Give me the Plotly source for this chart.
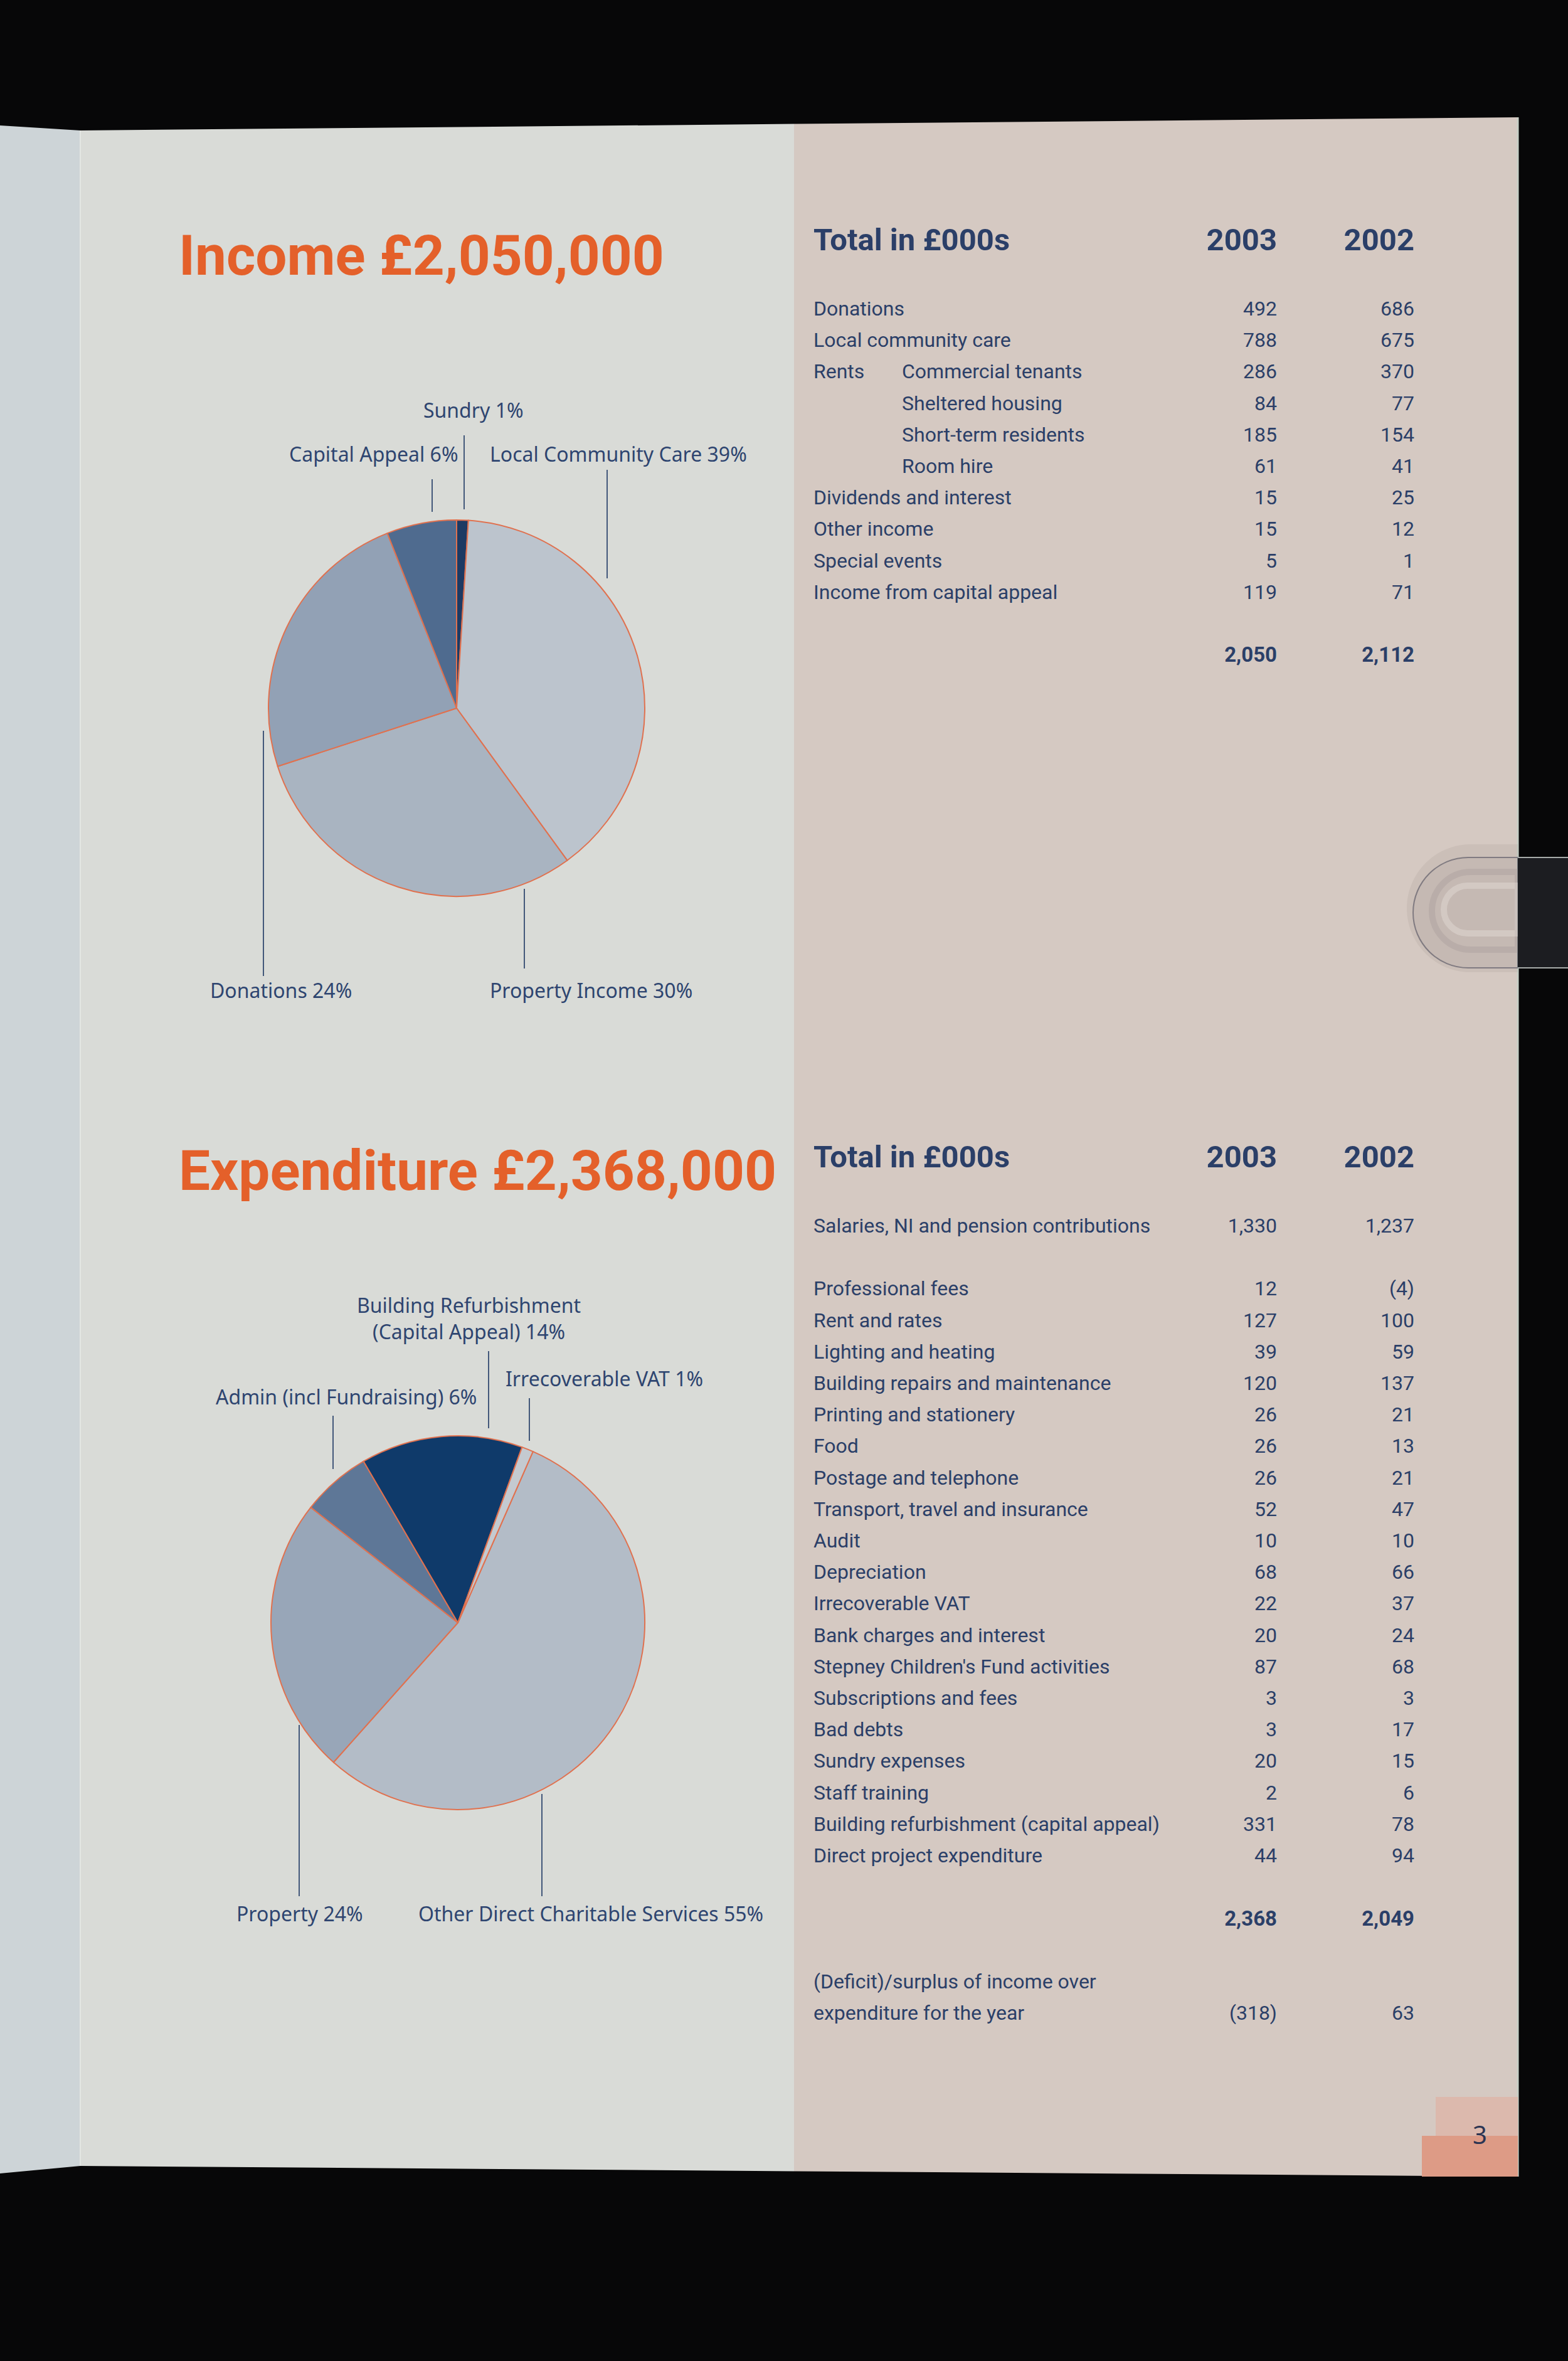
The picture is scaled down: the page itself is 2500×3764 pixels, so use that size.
import plotly.graph_objects as go

# ======================= DATA =======================
income_title = "Income £2,050,000"
expenditure_title = "Expenditure £2,368,000"

income_categories = ["Sundry", "Local Community Care", "Property Income", "Donations", "Capital Appeal"]
income_shares = [1, 39, 30, 24, 6]

expenditure_categories = ["Other Direct Charitable Services", "Property", "Admin (incl Fundraising)",
                          "Building Refurbishment (Capital Appeal)", "Irrecoverable VAT"]
expenditure_shares = [55, 24, 6, 14, 1]

table_header = ["Total in £000s", "2003", "2002"]

income_items = ["Donations", "Local community care", "Rents", "", "", "",
                "Dividends and interest", "Other income", "Special events", "Income from capital appeal"]
income_subitems = ["", "", "Commercial tenants", "Sheltered housing", "Short-term residents", "Room hire",
                   "", "", "", ""]
income_2003 = [492, 788, 286, 84, 185, 61, 15, 15, 5, 119]
income_2002 = [686, 675, 370, 77, 154, 41, 25, 12, 1, 71]

expenditure_items = ["Salaries, NI and pension contributions", "Professional fees", "Rent and rates",
                     "Lighting and heating", "Building repairs and maintenance", "Printing and stationery",
                     "Food", "Postage and telephone", "Transport, travel and insurance", "Audit",
                     "Depreciation", "Irrecoverable VAT", "Bank charges and interest",
                     "Stepney Children's Fund activities", "Subscriptions and fees", "Bad debts",
                     "Sundry expenses", "Staff training", "Building refurbishment (capital appeal)",
                     "Direct project expenditure"]
expenditure_2003 = [1330, 12, 127, 39, 120, 26, 26, 26, 52, 10, 68, 22, 20, 87, 3, 3, 20, 2, 331, 44]
expenditure_2002 = [1237, -4, 100, 59, 137, 21, 13, 21, 47, 10, 66, 37, 24, 68, 3, 17, 15, 6, 78, 94]

surplus_label = ["(Deficit)/surplus of income over", "expenditure for the year"]
page_number = "3"

# ======================= STYLE / LAYOUT =======================
W, H = 2500, 3764
BG = "#070708"
LEFT_STRIP = "#cdd4d7"
LEFT_PAGE = "#d9dbd7"
RIGHT_PAGE = "#d5c9c2"
ORANGE = "#e4602a"
NAVY = "#2b3f68"
LABEL_NAVY = "#2e4570"
LEADER = "#43587a"
PIE_EDGE = "#e0714f"

income_colors = ["#1d3a63", "#bcc4cd", "#a9b4c1", "#92a1b5", "#4f6b8f"]
expenditure_colors = ["#b3bcc7", "#98a6b8", "#5e7797", "#0f3a6a", "#c4cad0"]

INC_PIE = dict(cx=728, cy=1129, r=300, rotation=0)
EXP_PIE = dict(cx=730, cy=2587, r=298, rotation=23.7)

COL_LABEL, COL_SUB, COL_2003, COL_2002 = 1297, 1438, 2036, 2255
ROW_H = 50.2
INC_ROW0 = 495
EXP_ROW0 = 1957
HEADER_ROWS_UP = 2.15

BODY_FONT = "Roboto"
LABEL_FONT = "Noto Sans"


def fmt(v):
    s = f"{abs(v):,}"
    return f"({s})" if v < 0 else s


def pie_domain(p):
    cx, cy, r = p["cx"], p["cy"], p["r"]
    return dict(x=[(cx - r) / W, (cx + r) / W], y=[1 - (cy + r) / H, 1 - (cy - r) / H])


fig = go.Figure()

# ---------- pies ----------
fig.add_trace(go.Pie(values=income_shares, labels=income_categories, sort=False,
                     direction="clockwise", rotation=INC_PIE["rotation"],
                     marker=dict(colors=income_colors, line=dict(color=PIE_EDGE, width=2)),
                     textinfo="none", hoverinfo="label+percent", showlegend=False,
                     domain=pie_domain(INC_PIE)))
fig.add_trace(go.Pie(values=expenditure_shares, labels=expenditure_categories, sort=False,
                     direction="clockwise", rotation=EXP_PIE["rotation"],
                     marker=dict(colors=expenditure_colors, line=dict(color=PIE_EDGE, width=2)),
                     textinfo="none", hoverinfo="label+percent", showlegend=False,
                     domain=pie_domain(EXP_PIE)))


# ---------- tables as text traces ----------
def text_trace(xs, ys, texts, pos, size, bold=False, color=NAVY, family=BODY_FONT):
    fig.add_trace(go.Scatter(x=xs, y=ys, text=texts, mode="text", textposition=pos,
                             textfont=dict(family=family, size=size, color=color,
                                           weight="bold" if bold else "normal"),
                             hoverinfo="skip", showlegend=False, cliponaxis=False))


def add_table(row0, items, subitems, v2003, v2002, row_index):
    ys = [row0 + i * ROW_H for i in row_index]
    hy = row0 - HEADER_ROWS_UP * ROW_H
    text_trace([COL_LABEL], [hy], [table_header[0]], "middle right", 49, bold=True)
    text_trace([COL_2003, COL_2002], [hy, hy], table_header[1:], "middle left", 49, bold=True)
    text_trace([COL_LABEL] * len(items), ys, items, "middle right", 32)
    if subitems:
        text_trace([COL_SUB] * len(subitems), ys, subitems, "middle right", 32)
    text_trace([COL_2003] * len(v2003), ys, [fmt(v) for v in v2003], "middle left", 32)
    text_trace([COL_2002] * len(v2002), ys, [fmt(v) for v in v2002], "middle left", 32)
    ty = row0 + (row_index[-1] + 2) * ROW_H
    text_trace([COL_2003, COL_2002], [ty, ty], [fmt(sum(v2003)), fmt(sum(v2002))],
               "middle left", 33, bold=True)
    return ty


add_table(INC_ROW0, income_items, income_subitems, income_2003, income_2002,
          list(range(len(income_items))))
exp_rows = [0] + [i + 1 for i in range(1, len(expenditure_items))]
t_exp = add_table(EXP_ROW0, expenditure_items, None, expenditure_2003, expenditure_2002, exp_rows)

s1 = t_exp + 2 * ROW_H
s2 = s1 + ROW_H
text_trace([COL_LABEL, COL_LABEL], [s1, s2], surplus_label, "middle right", 32)
text_trace([COL_2003, COL_2002], [s2, s2],
           [fmt(sum(income_2003) - sum(expenditure_2003)), fmt(sum(income_2002) - sum(expenditure_2002))],
           "middle left", 32)

# ---------- page background shapes ----------
shapes = []


def poly(pts, color, line=None, width=0, layer="below"):
    path = "M " + " L ".join(f"{x},{y}" for x, y in pts) + " Z"
    shapes.append(dict(type="path", path=path, xref="x", yref="y", layer=layer,
                       fillcolor=color, line=dict(color=line or color, width=width)))


poly([(0, 200), (128, 208), (128, 3453), (0, 3465)], LEFT_STRIP)
poly([(128, 208), (1266, 197.6), (1266, 3461.4), (128, 3453)], LEFT_PAGE)
poly([(1266, 197.6), (2420, 187), (2420, 3470), (1266, 3461.4)], RIGHT_PAGE)
shapes.append(dict(type="line", x0=128, x1=128, y0=208, y1=3453, xref="x", yref="y", layer="below",
                   line=dict(color="#e3e6e3", width=2)))
shapes.append(dict(type="line", x0=2420, x1=2420, y0=187, y1=3470, xref="x", yref="y", layer="below",
                   line=dict(color="#c8cfc6", width=3)))
# page number tabs
poly([(2289, 3343), (2420, 3343), (2420, 3405), (2289, 3405)], "#dcb9ad")
poly([(2267, 3405), (2420, 3405), (2420, 3470), (2267, 3470)], "#dd9b86")

# clip tab
k = 0.5523


def clip_path(cx, cy, r, xr):
    return (f"M {xr},{cy - r} L {cx},{cy - r} "
            f"C {cx - k * r},{cy - r} {cx - r},{cy - k * r} {cx - r},{cy} "
            f"C {cx - r},{cy + k * r} {cx - k * r},{cy + r} {cx},{cy + r} "
            f"L {xr},{cy + r} Z")


shapes.append(dict(type="path", path=clip_path(2345, 1448, 102, 2420), xref="x", yref="y", layer="below",
                   fillcolor="rgba(120,105,100,0.10)", line=dict(width=0)))
shapes.append(dict(type="path", path=clip_path(2341, 1455, 88, 2420), xref="x", yref="y", layer="below",
                   fillcolor="rgba(160,150,148,0.14)", line=dict(color="rgba(70,70,85,0.55)", width=2)))
shapes.append(dict(type="path", path=clip_path(2345, 1452, 62, 2420), xref="x", yref="y", layer="below",
                   fillcolor="rgba(0,0,0,0)", line=dict(color="rgba(150,140,138,0.25)", width=10)))
shapes.append(dict(type="path", path=clip_path(2340, 1450, 38, 2420), xref="x", yref="y", layer="below",
                   fillcolor="rgba(0,0,0,0)", line=dict(color="rgba(238,232,226,0.35)", width=10)))
poly([(2420, 1367), (2500, 1367), (2500, 1543), (2420, 1543)], "#1c1d21")
shapes.append(dict(type="line", x0=2420, x1=2500, y0=1367, y1=1367, xref="x", yref="y", layer="below",
                   line=dict(color="#a7aba9", width=2)))
shapes.append(dict(type="line", x0=2420, x1=2500, y0=1543, y1=1543, xref="x", yref="y", layer="below",
                   line=dict(color="#a7aba9", width=2)))

# ---------- pie labels & leader lines ----------
annotations = []


def label(text, x, y, anchor):
    annotations.append(dict(text=text, x=x, y=y, xref="x", yref="y", xanchor=anchor, yanchor="middle",
                            showarrow=False, align="center",
                            font=dict(family=LABEL_FONT, size=32, color=LABEL_NAVY)))


def leader(x, y0, y1):
    shapes.append(dict(type="line", x0=x, x1=x, y0=y0, y1=y1, xref="x", yref="y", layer="above",
                       line=dict(color=LEADER, width=2)))


def pct_label(cats, shares, i):
    return f"{cats[i]} {shares[i]}%"


label(pct_label(income_categories, income_shares, 0), 755, 653, "center")
label(pct_label(income_categories, income_shares, 4), 732, 723, "right")
label(pct_label(income_categories, income_shares, 1), 779, 723, "left")
label(pct_label(income_categories, income_shares, 3), 333, 1578, "left")
label(pct_label(income_categories, income_shares, 2), 779, 1578, "left")
leader(740, 694, 812)
leader(689, 764, 816)
leader(968, 749, 922)
leader(420, 1165, 1556)
leader(836, 1417, 1544)

label(pct_label(expenditure_categories, expenditure_shares, 3).replace(" (", "<br>("), 747, 2101, "center")
label(pct_label(expenditure_categories, expenditure_shares, 2), 762, 2226, "right")
label(pct_label(expenditure_categories, expenditure_shares, 4), 804, 2197, "left")
label(pct_label(expenditure_categories, expenditure_shares, 1), 375, 3050, "left")
label(pct_label(expenditure_categories, expenditure_shares, 0), 665, 3050, "left")
leader(779, 2154, 2277)
leader(531, 2257, 2342)
leader(844, 2229, 2297)
leader(477, 2750, 3023)
leader(864, 2860, 3023)

# ---------- titles & page number ----------
for t, y in [(income_title, 407), (expenditure_title, 1866)]:
    annotations.append(dict(text=t, x=283, y=y, xref="x", yref="y", xanchor="left", yanchor="middle",
                            showarrow=False,
                            font=dict(family="Roboto", size=89, color=ORANGE, weight="bold")))
annotations.append(dict(text=page_number, x=2359, y=3402, xref="x", yref="y", xanchor="center",
                        yanchor="middle", showarrow=False,
                        font=dict(family=LABEL_FONT, size=40, color="#2b3452")))

fig.update_layout(
    width=W, height=H, margin=dict(l=0, r=0, t=0, b=0),
    paper_bgcolor=BG, plot_bgcolor="rgba(0,0,0,0)",
    xaxis=dict(range=[0, W], visible=False, fixedrange=True, domain=[0, 1]),
    yaxis=dict(range=[H, 0], visible=False, fixedrange=True, domain=[0, 1]),
    shapes=shapes, annotations=annotations, showlegend=False,
)

fig.write_html("out.html", config={"displayModeBar": False},
               post_script="document.body.style.margin='0px';document.body.style.background='#070708';")
